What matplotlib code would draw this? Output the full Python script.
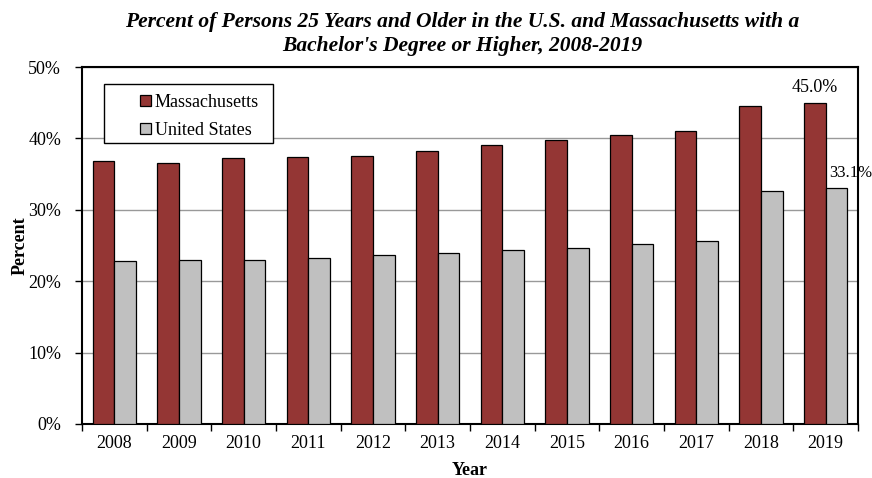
import numpy as np
import matplotlib.pyplot as plt
from matplotlib.patches import Rectangle

years = ['2008', '2009', '2010', '2011', '2012', '2013', '2014', '2015', '2016', '2017', '2018', '2019']
massachusetts = [36.8, 36.5, 37.2, 37.4, 37.5, 38.2, 39.1, 39.8, 40.5, 41.1, 44.5, 45.0]
united_states = [22.8, 22.9, 23.0, 23.3, 23.6, 24.0, 24.3, 24.7, 25.2, 25.6, 32.6, 33.1]

ma_color = '#943634'
us_color = '#c0c0c0'

plt.rcParams['font.family'] = ['Liberation Serif', 'DejaVu Serif']

fig = plt.figure(figsize=(8.72, 4.78), dpi=100)
ax = fig.add_axes([82/872, 1-424/478, 776/872, 357/478])

x = np.arange(len(years))
w = 0.335
ax.bar(x - w/2, massachusetts, w, color=ma_color, edgecolor='black', linewidth=0.9,
       label='Massachusetts', zorder=3)
ax.bar(x + w/2, united_states, w, color=us_color, edgecolor='black', linewidth=0.9,
       label='United States', zorder=3)

ax.set_xlim(-0.5, len(years) - 0.5)
ax.set_ylim(0, 50)
ax.set_yticks(np.arange(0, 51, 10))
ax.set_yticklabels([f'{v}%' for v in range(0, 51, 10)], fontsize=13)
ax.yaxis.grid(True, color='#999999', linewidth=1, zorder=0)
ax.set_axisbelow(True)

# category labels centred, ticks at the group boundaries
ax.set_xticks(x)
ax.set_xticklabels(years, fontsize=13)
ax.tick_params(axis='x', length=0, pad=8)
ax.set_xticks(np.arange(-0.5, len(years), 1), minor=True)
ax.tick_params(axis='x', which='minor', length=5, width=1, direction='out')
ax.tick_params(axis='y', length=5, width=1, direction='out', pad=10)

for s in ax.spines.values():
    s.set_linewidth(1.5)
    s.set_color('black')

ax.set_ylabel('Percent', fontsize=13, fontweight='bold')
ax.yaxis.set_label_coords(-0.069, 0.5)
ax.set_xlabel('Year', fontsize=13, fontweight='bold', labelpad=7)

# value labels on the last year
ax.text(x[-1] - w/2, massachusetts[-1] + 1.0, f'{massachusetts[-1]:.1f}%',
        ha='center', va='bottom', fontsize=13)
ax.text(x[-1] + 0.06, united_states[-1] + 0.9, f'{united_states[-1]:.1f}%',
        ha='left', va='bottom', fontsize=12, clip_on=False)

# legend with its own box
ax.add_patch(Rectangle((0.028, 0.787), 0.218, 0.165, transform=ax.transAxes,
                       facecolor='white', edgecolor='black', linewidth=1, zorder=4))
ax.legend(loc='upper left', bbox_to_anchor=(0.066, 0.945), frameon=False,
          fontsize=13, handlelength=0.6, handleheight=0.6, handletextpad=0.2,
          labelspacing=0.6, borderaxespad=0).set_zorder(5)

fig.suptitle("Percent of Persons 25 Years and Older in the U.S. and Massachusetts with a\n"
             "Bachelor's Degree or Higher, 2008-2019",
             fontsize=15.5, fontweight='bold', fontstyle='italic', x=0.53, y=0.975,
             linespacing=1.3)

plt.savefig('out.png', dpi=100)
